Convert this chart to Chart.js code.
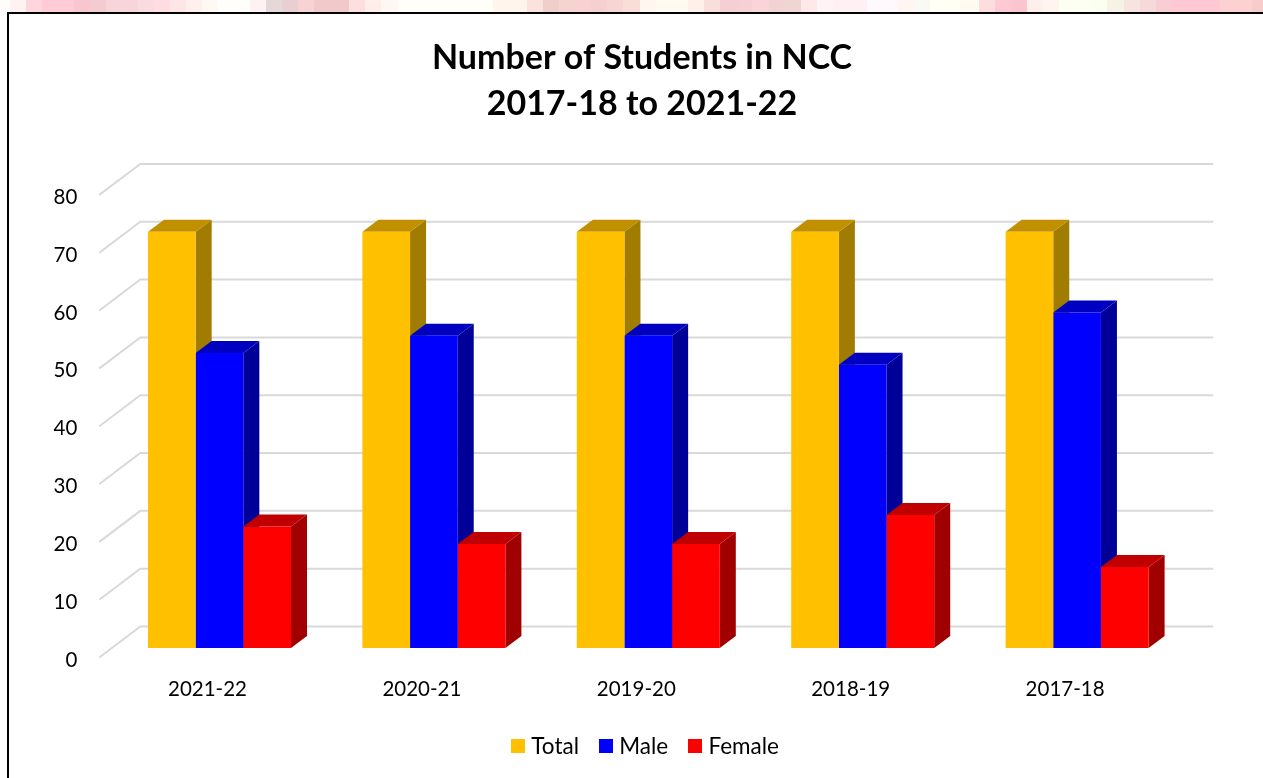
<!DOCTYPE html>
<html><head><meta charset="utf-8">
<script src="https://cdn.jsdelivr.net/npm/chart.js@4"></script>
<style>
html,body{margin:0;padding:0;width:1263px;height:778px;overflow:hidden;background:#fff}
#strip{position:absolute;left:0;top:0;width:1263px;height:12px;
background:linear-gradient(90deg,
#FFFDFA 0 10px,#FFF3F1 10px 26px,#FFD6DC 26px 42px,#FFCBD6 42px 74px,#F9C6CF 74px 90px,#F3CBD0 90px 106px,#F7D5DB 106px 138px,#FADBE0 138px 154px,#FFDDE1 154px 170px,#FFE6E6 170px 186px,#FFF0EE 186px 202px,#FFF8F3 202px 218px,#FFFEFA 218px 250px,#FFF2F5 250px 266px,#E6D8D8 266px 282px,#E9CED2 282px 298px,#F7D3D6 298px 314px,#F2C9CB 314px 349px,
#FDDFE0 349px 365px,#FFEEEA 365px 381px,#FFF7F3 381px 398px,#FFFEF8 398px 493px,#FFF5EC 493px 527px,#FBE2DC 527px 543px,#F0CEC9 543px 559px,#F5D3D0 559px 575px,#F9D1D2 575px 591px,#F6D0D0 591px 607px,#F7D5D2 607px 623px,#F9DDD8 623px 640px,
#FFF6F0 640px 656px,#FFFBF3 656px 688px,#FFF0EB 688px 704px,#F9DFDC 704px 720px,#F6CFD4 720px 738px,#F7D0D6 738px 752px,#F9D4D9 752px 769px,#F1D3D4 769px 785px,#EFD5D3 785px 801px,#FFE8E8 801px 817px,#FFF3F5 817px 833px,#FFF1F3 833px 867px,#FFF8FC 867px 898px,#FFF5F3 898px 914px,#F9FAF5 914px 930px,#FFFFF6 930px 960px,
#FFFBF3 960px 979px,#FDDEDF 979px 995px,#FDC9D3 995px 1011px,#FAC5CE 1011px 1027px,#FFEFEC 1027px 1043px,#FFF4EF 1043px 1059px,#FEFFF3 1059px 1091px,#FBFFF0 1091px 1107px,#F6F3E6 1107px 1124px,#F5E4E0 1124px 1140px,#F6D9DB 1140px 1156px,#F9CDD4 1156px 1172px,#FFC9D4 1172px 1220px,#FDD0D2 1220px 1252px,#F6CDCB 1252px 1263px)}
#wrap{position:absolute;left:7px;top:12px;width:1268px;height:766px;border-left:2px solid #000;border-top:2px solid #000;box-sizing:border-box;background:#fff}
canvas{display:block}
</style></head><body>
<div id="strip"></div>
<div id="wrap"><canvas id="c" width="1266" height="764" style="width:1266px;height:764px"></canvas></div>
<script>
const categories = ["2021-22","2020-21","2019-20","2018-19","2017-18"];
const total = [72,72,72,72,72];
const male = [51,54,54,49,58];
const female = [21,18,18,23,14];
const titleLines = ["Number of Students in NCC","2017-18 to 2021-22"];
const FONT = "Lato, Carlito, Calibri, sans-serif";
const fronts = ["#FFC000","#0000FF","#FF0000"];
const faces = [
  {top:"#C09000",side:"#A07C00"},
  {top:"#0000C0",side:"#000099"},
  {top:"#C00000",side:"#A00000"}
];
const DX = 16, DY = 12;
function swatch(color){
  const c=document.createElement("canvas");c.width=14;c.height=14;
  const x=c.getContext("2d");x.fillStyle=color;x.fillRect(0,0,14,14);return c;
}
const wall3d = {
  id:"wall3d",
  afterLayout(chart){ chart.legend.left+=5.5; chart.legend.right+=5.5; },
  beforeDatasetsDraw(chart){
    const {ctx,chartArea:a,scales:{y}} = chart;
    ctx.save();
    ctx.strokeStyle="#D9D9D9"; ctx.lineWidth=2; ctx.lineJoin="miter";
    y.ticks.forEach(t=>{
      const p=y.getPixelForValue(t.value);
      ctx.beginPath();
      ctx.moveTo(a.left-13,p+9.5);
      ctx.lineTo(a.left+28,p-21.5);
      ctx.lineTo(a.right+29,p-21.5);
      ctx.stroke();
    });
    const n=chart.data.labels.length;
    for(let i=0;i<n;i++){
      chart.data.datasets.forEach((ds,d)=>{
        const b=chart.getDatasetMeta(d).data[i];
        const l=b.x-b.width/2,r=b.x+b.width/2,t=b.y,bt=b.base;
        ctx.fillStyle=faces[d].side;
        ctx.beginPath();ctx.moveTo(r,t);ctx.lineTo(r+DX,t-DY);ctx.lineTo(r+DX,bt-DY);ctx.lineTo(r,bt);ctx.closePath();ctx.fill();
        ctx.fillStyle=faces[d].top;
        ctx.beginPath();ctx.moveTo(l,t);ctx.lineTo(l+DX,t-DY);ctx.lineTo(r+DX,t-DY);ctx.lineTo(r,t);ctx.closePath();ctx.fill();
      });
    }
    ctx.restore();
  }
};
new Chart(document.getElementById("c"),{
  type:"bar",
  data:{labels:categories,datasets:[
    {label:"Total",data:total,backgroundColor:fronts[0]},
    {label:"Male",data:male,backgroundColor:fronts[1]},
    {label:"Female",data:female,backgroundColor:fronts[2]}
  ]},
  plugins:[wall3d],
  options:{
    responsive:false,animation:false,
    layout:{padding:{left:0,right:0,top:21,bottom:10.5}},
    datasets:{bar:{categoryPercentage:0.667,barPercentage:1,borderWidth:0}},
    plugins:{
      tooltip:{enabled:false},
      title:{display:true,text:titleLines,color:"#000",font:{family:FONT,size:34,weight:"bold",lineHeight:1.353},padding:{top:0,bottom:58.4}},
      legend:{position:"bottom",labels:{color:"#000",font:{family:FONT,size:22.5},usePointStyle:true,pointStyleWidth:4,boxHeight:14,padding:25,
        generateLabels(chart){
          return Chart.defaults.plugins.legend.labels.generateLabels(chart).map((it,i)=>Object.assign(it,{pointStyle:swatch(fronts[i])}));
        }}}
    },
    scales:{
      x:{grid:{display:false,drawTicks:false},border:{display:false},
         ticks:{color:"#000",font:{family:FONT,size:20.5},padding:29,maxRotation:0,labelOffset:-12},
         afterFit(s){s.height=62;}},
      y:{min:0,max:80,grid:{display:false,drawTicks:false},border:{display:false},
         ticks:{stepSize:10,color:"#000",font:{family:FONT,size:20.5},padding:35,labelOffset:12},
         afterFit(s){s.width=103.3;}},
      yGutter:{position:"right",display:true,min:0,max:1,grid:{display:false,drawTicks:false},border:{display:false},
         ticks:{display:false},afterFit(s){s.width=90.7;}}
    }
  }
});
</script></body></html>
